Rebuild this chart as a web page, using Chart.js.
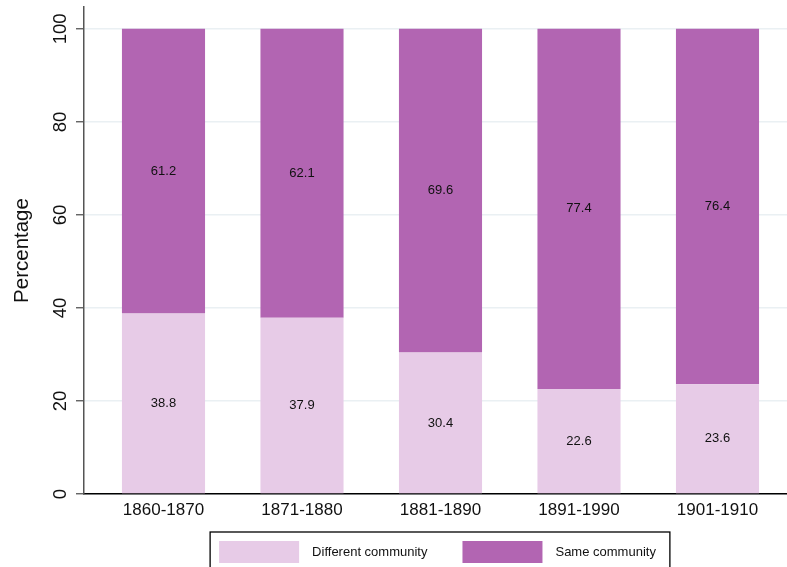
<!DOCTYPE html>
<html>
<head>
<meta charset="utf-8">
<script src="https://cdn.jsdelivr.net/npm/chart.js@4"></script>
<style>
  html, body { margin: 0; padding: 0; background: #ffffff; }
  #wrap { width: 787px; height: 567px; }
</style>
</head>
<body>
<div id="wrap"><canvas id="chart"></canvas></div>
<script>
const periods = ['1860-1870', '1871-1880', '1881-1890', '1891-1990', '1901-1910'];
const differentCommunity = [38.8, 37.9, 30.4, 22.6, 23.6];
const sameCommunity = [61.2, 62.1, 69.6, 77.4, 76.4];
const yTicks = [0, 20, 40, 60, 80, 100];

const colors = {
    light: '#e7cbe7',
    dark: '#b265b2',
    grid: '#eaf0f3',
    axis: '#555555',
    text: '#111111'
};
const fontFamily = '"Liberation Sans", Arial, Helvetica, sans-serif';

const toPoints = (values) => values.map((v, i) => ({ x: i, y: v }));

// value labels in the middle of each segment
const segmentLabels = {
    id: 'segmentLabels',
    afterDatasetsDraw(chart) {
        const ctx = chart.ctx;
        ctx.save();
        ctx.font = '13px ' + fontFamily;
        ctx.fillStyle = colors.text;
        ctx.textAlign = 'center';
        ctx.textBaseline = 'middle';
        chart.data.datasets.forEach((ds, di) => {
            chart.getDatasetMeta(di).data.forEach((bar, i) => {
                const p = bar.getProps(['x', 'y', 'base'], true);
                ctx.fillText(ds.data[i].y.toFixed(1), p.x, (p.y + p.base) / 2);
            });
        });
        ctx.restore();
    }
};

// Stata-like framed legend under the plot
const framedLegend = {
    id: 'framedLegend',
    afterDraw(chart) {
        const ctx = chart.ctx;
        const area = chart.chartArea;
        const swatchW = 80, swatchH = 22, textGap = 13, itemGap = 35;
        ctx.save();
        ctx.font = '13px ' + fontFamily;
        const items = chart.data.datasets.map(ds => ({
            text: ds.label,
            color: ds.backgroundColor,
            w: swatchW + textGap + ctx.measureText(ds.label).width
        }));
        const total = items.reduce((s, it) => s + it.w, 0) + itemGap * (items.length - 1);
        let x = (area.left + area.right) / 2 + 2 - total / 2;
        const boxTop = 532;
        const midY = boxTop + 20;

        ctx.strokeStyle = '#000000';
        ctx.lineWidth = 1.3;
        ctx.strokeRect(x - 9, boxTop, total + 23, 60);

        ctx.textAlign = 'left';
        ctx.textBaseline = 'middle';
        items.forEach(it => {
            ctx.fillStyle = it.color;
            ctx.fillRect(x, midY - swatchH / 2, swatchW, swatchH);
            ctx.fillStyle = colors.text;
            ctx.fillText(it.text, x + swatchW + textGap, midY);
            x += it.w + itemGap;
        });
        ctx.restore();
    }
};

new Chart(document.getElementById('chart'), {
    type: 'bar',
    data: {
        datasets: [
            {
                label: 'Different community',
                data: toPoints(differentCommunity),
                backgroundColor: colors.light,
                borderWidth: 0
            },
            {
                label: 'Same community',
                data: toPoints(sameCommunity),
                backgroundColor: colors.dark,
                borderWidth: 0
            }
        ]
    },
    options: {
        responsive: true,
        maintainAspectRatio: false,
        animation: false,
        categoryPercentage: 1.0,
        barPercentage: 0.6,
        layout: {
            padding: { top: 7, right: 0, bottom: 35, left: 0 }
        },
        plugins: {
            legend: { display: false },
            tooltip: { enabled: false }
        },
        scales: {
            x: {
                type: 'linear',
                stacked: true,
                offset: false,
                min: -0.574,
                max: 4.5018,
                afterBuildTicks: (scale) => {
                    scale.ticks = periods.map((p, i) => ({ value: i }));
                },
                afterFit: (scale) => {
                    scale.height = 38;
                    scale.paddingLeft = 0;
                    scale.paddingRight = 0;
                },
                grid: { display: false, drawTicks: false },
                border: { display: true, color: '#000000', width: 1.5 },
                ticks: {
                    padding: 6,
                    color: colors.text,
                    font: { family: fontFamily, size: 17 },
                    maxRotation: 0,
                    autoSkip: false,
                    callback: (value) => periods[value]
                }
            },
            y: {
                stacked: true,
                min: 0,
                max: 104.7,
                afterBuildTicks: (scale) => {
                    scale.ticks = yTicks.map(v => ({ value: v }));
                },
                afterFit: (scale) => {
                    scale.width = 84;
                    scale.paddingTop = 0;
                    scale.paddingBottom = 0;
                },
                grid: {
                    color: colors.grid,
                    lineWidth: 1.5,
                    tickLength: 8,
                    tickColor: colors.axis,
                    tickWidth: 1.3
                },
                border: { display: true, color: colors.axis, width: 1.5 },
                ticks: {
                    padding: 0,
                    minRotation: 90,
                    maxRotation: 90,
                    crossAlign: 'center',
                    color: colors.text,
                    font: { family: fontFamily, size: 18.5 }
                },
                title: {
                    display: true,
                    text: 'Percentage',
                    color: colors.text,
                    font: { family: fontFamily, size: 20.5 },
                    padding: { top: 10, bottom: 0 }
                }
            }
        }
    },
    plugins: [segmentLabels, framedLegend]
});
</script>
</body>
</html>
